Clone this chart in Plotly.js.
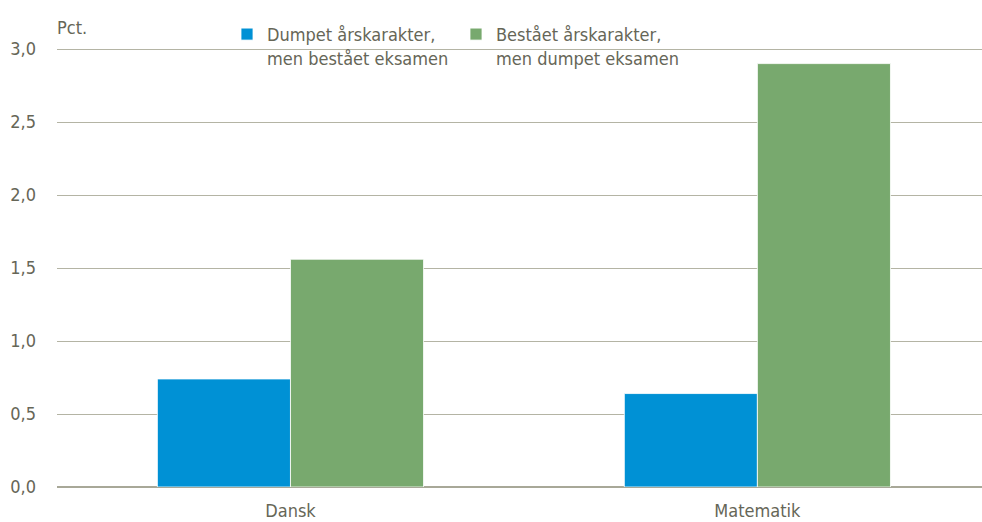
<!DOCTYPE html>
<html>
<head>
<meta charset="utf-8">
<script src="https://cdn.plot.ly/plotly-3.0.1.min.js"></script>
<style>html,body{margin:0;padding:0;background:#fff;}#chart{width:982px;height:522px;}</style>
</head>
<body>
<div id="chart"></div>
<script>
const categories = ["Dansk", "Matematik"];
const seriesNames = ["Dumpet årskarakter,<br>men bestået eksamen", "Bestået årskarakter,<br>men dumpet eksamen"];
const dumpetAar = [0.74, 0.64];
const bestaaetAar = [1.56, 2.90];
const yTicks = [0, 0.5, 1.0, 1.5, 2.0, 2.5, 3.0];
const yTickLabels = ["0,0", "0,5", "1,0", "1,5", "2,0", "2,5", "3,0"];

const FONT = "'DejaVu Sans Condensed', 'Liberation Sans Narrow', 'Arial Narrow', 'Liberation Sans', Arial, sans-serif";
const TXT = "#666657";
const FS = 18;

const traces = [
  {type: "bar", x: categories, y: dumpetAar, name: seriesNames[0],
   marker: {color: "#0091D5", line: {color: "#ffffff", width: 0.8}}},
  {type: "bar", x: categories, y: bestaaetAar, name: seriesNames[1],
   marker: {color: "#78A96E", line: {color: "#ffffff", width: 0.8}}}
];

// plot area top at 14px so the legend sits inside it; 3,0 gridline lands at y=49
const yTop = 3.0 + 35 / 146;

const layout = {
  width: 982, height: 522,
  margin: {l: 57, r: 0, t: 14, b: 35},
  paper_bgcolor: "#ffffff", plot_bgcolor: "#ffffff",
  font: {family: FONT, size: FS, color: TXT},
  barmode: "group", bargap: 0.43, bargroupgap: 0,
  showlegend: true,
  legend: {orientation: "h", x: (227 - 57) / 925, xanchor: "left",
           y: 0.996, yanchor: "top",
           bgcolor: "rgba(0,0,0,0)", font: {family: FONT, size: FS, color: TXT},
           valign: "top", entrywidth: 184, itemwidth: 30, tracegroupgap: 0},
  xaxis: {range: [-0.5, 1.481], showgrid: false, zeroline: false, showline: false, automargin: false,
          ticks: "", ticklabelstandoff: 11, tickfont: {family: FONT, size: FS, color: TXT}, fixedrange: true},
  yaxis: {range: [0, yTop], tickvals: yTicks, ticktext: yTickLabels, automargin: false,
          showgrid: true, gridcolor: "#B4B4A4", gridwidth: 1,
          zeroline: true, zerolinecolor: "#A8A898", zerolinewidth: 1.5,
          showline: false, ticks: "", ticklabelstandoff: 20,
          tickfont: {family: FONT, size: FS, color: TXT}, fixedrange: true},
  annotations: [{text: "Pct.", xref: "paper", yref: "y", x: 0, y: 3.0, xanchor: "left", yanchor: "bottom",
                 xshift: -2, yshift: 9, showarrow: false, font: {family: FONT, size: FS, color: TXT}}]
};

Plotly.newPlot("chart", traces, layout, {displayModeBar: false, staticPlot: true});
</script>
</body>
</html>
